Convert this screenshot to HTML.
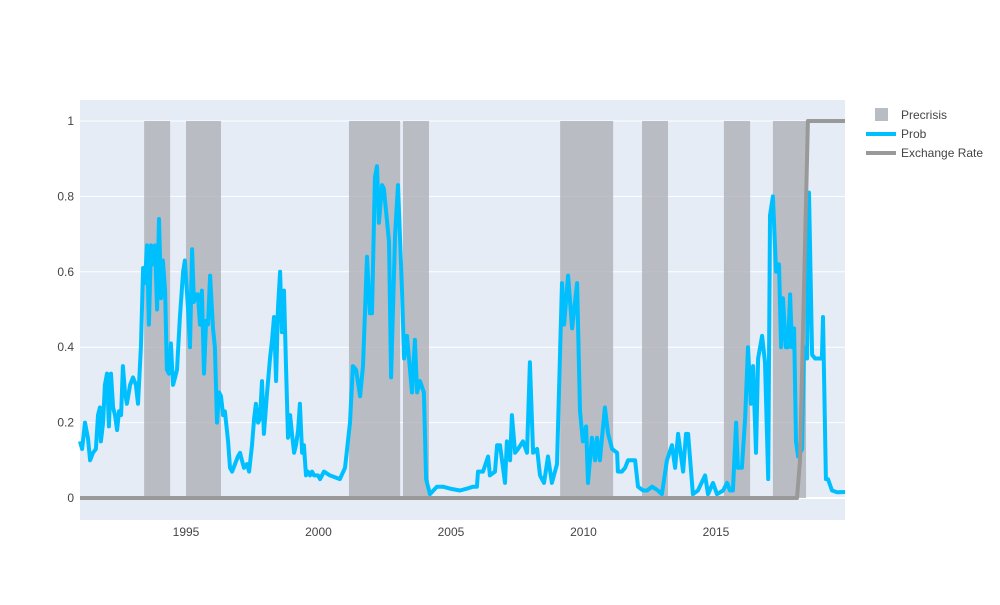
<!DOCTYPE html>
<html><head><meta charset="utf-8"><style>
body{margin:0;background:#fff}
svg text{font-family:"Liberation Sans",sans-serif;fill:#444;font-size:12px}
</style></head><body>
<svg id="chart" width="1000" height="600" xmlns="http://www.w3.org/2000/svg">
<rect x="0" y="0" width="1000" height="600" fill="#fff"/>
<rect x="80" y="100" width="765" height="420" fill="#e5ecf6"/>
<g id="grid"></g><g id="bars"></g><g id="lines"></g><g id="axes"></g>
<g>
<rect x="875" y="108" width="13" height="13" fill="#b8bcc3"/>
<text x="901" y="119">Precrisis</text>
<line x1="866" y1="134" x2="896" y2="134" stroke="#00bfff" stroke-width="4"/>
<text x="901" y="138">Prob</text>
<line x1="866" y1="153" x2="896" y2="153" stroke="#999" stroke-width="4"/>
<text x="901" y="157">Exchange Rate</text>
</g>
</svg>
<script>
const probYears=[1991.00,1991.08,1991.19,1991.30,1991.38,1991.49,1991.60,1991.68,1991.75,1991.79,1991.87,1991.94,1992.02,1992.09,1992.17,1992.25,1992.32,1992.40,1992.47,1992.55,1992.62,1992.70,1992.77,1992.89,1993.00,1993.11,1993.19,1993.30,1993.38,1993.45,1993.53,1993.60,1993.68,1993.76,1993.83,1993.91,1993.98,1994.06,1994.13,1994.21,1994.28,1994.36,1994.43,1994.51,1994.59,1994.66,1994.77,1994.89,1994.96,1995.08,1995.15,1995.23,1995.30,1995.38,1995.45,1995.53,1995.60,1995.68,1995.76,1995.83,1995.91,1996.02,1996.09,1996.17,1996.25,1996.32,1996.40,1996.47,1996.59,1996.66,1996.74,1996.85,1996.96,1997.04,1997.11,1997.19,1997.30,1997.38,1997.49,1997.57,1997.64,1997.72,1997.79,1997.87,1997.94,1998.06,1998.17,1998.25,1998.32,1998.40,1998.47,1998.55,1998.62,1998.70,1998.77,1998.85,1998.93,1999.00,1999.08,1999.15,1999.23,1999.30,1999.38,1999.45,1999.53,1999.60,1999.68,1999.76,1999.83,1999.98,2000.06,2000.21,
2000.43,2000.81,2001.00,2001.19,2001.30,2001.42,2001.57,2001.68,2001.83,2001.94,2002.02,2002.13,2002.21,2002.28,2002.40,2002.47,2002.66,2002.74,2002.89,2003.00,2003.15,2003.23,2003.34,2003.53,2003.64,2003.72,2003.83,2003.98,2004.06,2004.21,2004.47,2004.70,2004.96,2005.34,2005.61,2005.83,2005.98,2006.02,2006.21,2006.40,2006.47,2006.66,2006.74,2006.85,2007.04,2007.11,2007.23,2007.30,2007.42,2007.53,2007.72,2007.87,2007.98,2008.10,2008.25,2008.36,2008.51,2008.66,2008.81,2009.00,2009.12,2009.19,2009.27,2009.42,2009.57,2009.76,2009.87,2009.98,2010.10,2010.17,
2010.32,2010.44,2010.51,2010.62,2010.70,2010.81,2010.93,2011.08,2011.27,2011.30,2011.45,2011.57,2011.68,2011.95,2012.06,2012.25,2012.40,2012.59,2012.81,2012.96,2013.15,2013.34,2013.46,2013.57,2013.76,2013.87,2013.95,2014.13,2014.32,2014.59,2014.70,2014.89,2015.04,2015.27,2015.42,2015.53,2015.64,2015.76,2015.83,2015.98,2016.10,2016.21,2016.32,2016.40,2016.51,2016.59,2016.74,2016.85,2016.97,2017.04,2017.15,2017.27,2017.38,2017.46,2017.53,2017.64,2017.72,2017.80,2017.87,2017.95,2018.02,2018.10,2018.25,2018.32,2018.44,2018.51,2018.63,2018.74,2019.00,2019.04,2019.15,2019.23,2019.38,2019.57,2019.87];
const probValues=[.15,.13,.20,.16,.10,.12,.13,.22,.24,.15,.20,.30,.33,.19,.33,.24,.22,.18,.23,.22,.35,.28,.25,.30,.32,.30,.25,.40,.61,.57,.67,.46,.67,.62,.67,.50,.74,.53,.63,.55,.34,.33,.41,.30,.32,.34,.48,.60,.63,.50,.40,.66,.52,.54,.54,.46,.55,.33,.47,.46,.59,.45,.40,.20,.28,.27,.22,.23,.15,.08,.07,.09,.11,.12,.10,.08,.09,.07,.14,.21,.25,.20,.21,.31,.17,.28,.37,.42,.48,.31,.50,.60,.44,.55,.36,.16,.22,.17,.12,.14,.18,.25,.12,.14,.06,.07,.06,.07,.06,.06,.05,.07,
.06,.05,.08,.20,.35,.34,.27,.35,.64,.49,.49,.85,.88,.73,.83,.82,.68,.32,.70,.83,.55,.37,.43,.28,.42,.28,.31,.28,.05,.01,.03,.03,.025,.02,.025,.03,.03,.07,.07,.11,.06,.07,.14,.14,.04,.15,.10,.22,.12,.13,.15,.12,.36,.12,.13,.06,.04,.11,.04,.09,.39,.57,.46,.59,.45,.57,.23,.15,.19,.04,
.16,.10,.16,.10,.16,.24,.17,.13,.12,.07,.07,.08,.10,.10,.03,.02,.02,.03,.02,.01,.10,.14,.08,.17,.07,.17,.17,.01,.02,.06,.01,.04,.01,.02,.04,.02,.02,.20,.08,.08,.21,.40,.25,.35,.12,.37,.43,.36,.05,.75,.80,.60,.62,.40,.53,.40,.40,.54,.40,.45,.15,.11,.13,.40,.37,.81,.38,.37,.37,.48,.05,.05,.02,.015,.016];
const fxYears=[1991.0,2018.06,2018.17,2018.47,2019.87];
const fxValues=[0,0,0.1,1,1];
const crisisStart=[1993.42,1995.00,2001.15,2003.19,2009.12,2012.21,2015.30,2017.15];
const crisisEnd=[1994.40,1996.32,2003.08,2004.17,2011.12,2013.19,2016.29,2018.40];
const xTicks=[1995,2000,2005,2010,2015];
const yTicks=[0,0.2,0.4,0.6,0.8,1];
const yTickLabels=["0","0.2","0.4","0.6","0.8","1"];

const NS="http://www.w3.org/2000/svg";
const X0=80,X1=845,T0=1991,T1=2019.87;
const xs=t=>X0+(t-T0)/(T1-T0)*(X1-X0);
const ys=v=>498-v*377;
function mk(tag,parent,attrs){const e=document.createElementNS(NS,tag);for(const k in attrs)e.setAttribute(k,attrs[k]);document.getElementById(parent).appendChild(e);return e;}

yTicks.forEach((v,i)=>{
  const g=mk('line','grid',{x1:X0,x2:X1,y1:ys(v),y2:ys(v),stroke:'#fff','stroke-width':v===0?2:1});
  
  
  const t=mk('text','axes',{x:74,y:ys(v)+4,'text-anchor':'end'});
  t.textContent=yTickLabels[i];
  
  
});
xTicks.forEach(v=>{
  const t=mk('text','axes',{x:xs(v),y:536,'text-anchor':'middle'});
  t.textContent=String(v);
  
  
});
crisisStart.forEach((s,i)=>{
  const r=mk('rect','bars',{x:xs(s),y:ys(1),width:xs(crisisEnd[i])-xs(s),height:ys(0)-ys(1),fill:'#a9acb1','fill-opacity':0.75});
  
  
});
function line(xa,va,color,name){
  const d=xa.map((t,i)=>(i?'L':'M')+xs(t).toFixed(1)+','+ys(va[i]).toFixed(1)).join('');
  const p=mk('path','lines',{d:d,fill:'none',stroke:color,'stroke-width':4,'stroke-linejoin':'round'});
  
  
}
line(probYears,probValues,'#00bfff','prob-line');
line(fxYears,fxValues,'#999999','exchange-rate-line');
</script>
</body></html>
